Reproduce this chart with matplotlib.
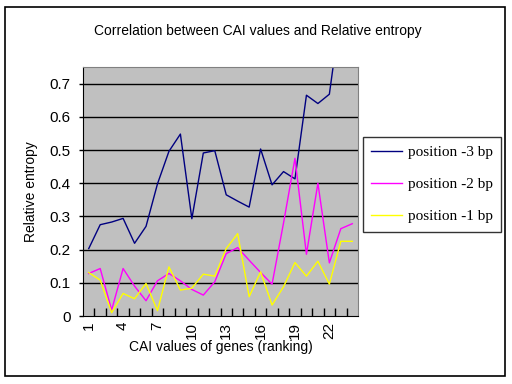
import numpy as np
import matplotlib
matplotlib.use("Agg")
import matplotlib.pyplot as plt
from matplotlib.patches import Rectangle

# ranking positions 1..24
ranking = list(range(1, 25))

pos_minus3 = [0.203, 0.275, 0.283, 0.294, 0.219, 0.270, 0.398, 0.496, 0.548, 0.293,
              0.491, 0.498, 0.365, 0.346, 0.328, 0.503, 0.395, 0.435, 0.413, 0.665,
              0.640, 0.668, 0.920, 0.950]
pos_minus2 = [0.128, 0.143, 0.018, 0.143, 0.090, 0.046, 0.106, 0.128, 0.106, 0.080,
              0.063, 0.103, 0.188, 0.206, 0.168, 0.131, 0.096, 0.280, 0.475, 0.186,
              0.400, 0.160, 0.263, 0.278]
pos_minus1 = [0.131, 0.108, 0.010, 0.068, 0.052, 0.098, 0.016, 0.148, 0.078, 0.084,
              0.126, 0.120, 0.203, 0.248, 0.058, 0.133, 0.033, 0.088, 0.161, 0.120,
              0.165, 0.096, 0.225, 0.225]

series_labels = ["position -3 bp", "position -2 bp", "position -1 bp"]
series_colors = ["#000080", "#FF00FF", "#FFFF00"]
ytick_vals = [0, 0.1, 0.2, 0.3, 0.4, 0.5, 0.6, 0.7]
ytick_text = ["0", "0.1", "0.2", "0.3", "0.4", "0.5", "0.6", "0.7"]

sans = "Liberation Sans"
serif = "Liberation Serif"

fig = plt.figure(figsize=(5.12, 3.84), dpi=100)
W, H = 512, 384

# outer chart frame
fig.patches.append(Rectangle((5 / W, 1 - 376 / H), 500 / W, 369 / H,
                             transform=fig.transFigure, fill=False,
                             edgecolor="black", lw=1.2))

ax = fig.add_axes([83 / W, 1 - 316 / H, 275 / W, 249 / H])
ax.set_facecolor("#C0C0C0")

x = np.arange(len(ranking))
lines = []
for vals, col, lab in zip([pos_minus3, pos_minus2, pos_minus1], series_colors, series_labels):
    ln, = ax.plot(x, vals, color=col, lw=1.0, label=lab)
    lines.append(ln)

ax.set_xlim(-0.5, len(ranking) - 0.5)
ax.set_ylim(0, 0.75)

for v in ytick_vals[1:]:
    ax.axhline(v, color="black", lw=1.0, zorder=1)

ax.set_yticks(ytick_vals)
ax.set_yticklabels(ytick_text, fontsize=11, family=sans)
ax.tick_params(axis="y", direction="out", length=3, width=1, pad=6)

major = list(range(0, len(ranking), 3))
ax.set_xticks(major)
ax.set_xticklabels([str(ranking[i]) for i in major], rotation=90,
                   fontsize=11, family=sans)
ax.set_xticks(np.arange(0.5, len(ranking) - 0.5, 1.0), minor=True)
ax.tick_params(axis="x", which="major", length=0, pad=4)
ax.tick_params(axis="x", which="minor", direction="in", length=6, width=1)

for side in ["top", "right"]:
    ax.spines[side].set_color("#808080")
for side in ["left", "bottom"]:
    ax.spines[side].set_color("black")

ax.set_ylabel("Relative entropy", fontsize=10, family=sans, labelpad=8)
ax.set_xlabel("CAI values of genes (ranking)", fontsize=10, family=sans, labelpad=1)

fig.text(258 / W, 1 - 31 / H, "Correlation between CAI values and Relative entropy",
         ha="center", va="center", fontsize=10, family=sans)

leg = fig.legend(handles=lines, loc="upper left",
                 bbox_to_anchor=(363 / W, 1 - 137 / H),
                 prop={"family": serif, "size": 11},
                 frameon=True, fancybox=False, edgecolor="black",
                 handlelength=2.0, handletextpad=0.4, labelspacing=1.2,
                 borderpad=0.55, borderaxespad=0)
leg.get_frame().set_linewidth(1.0)

fig.savefig("out.png", dpi=100)
